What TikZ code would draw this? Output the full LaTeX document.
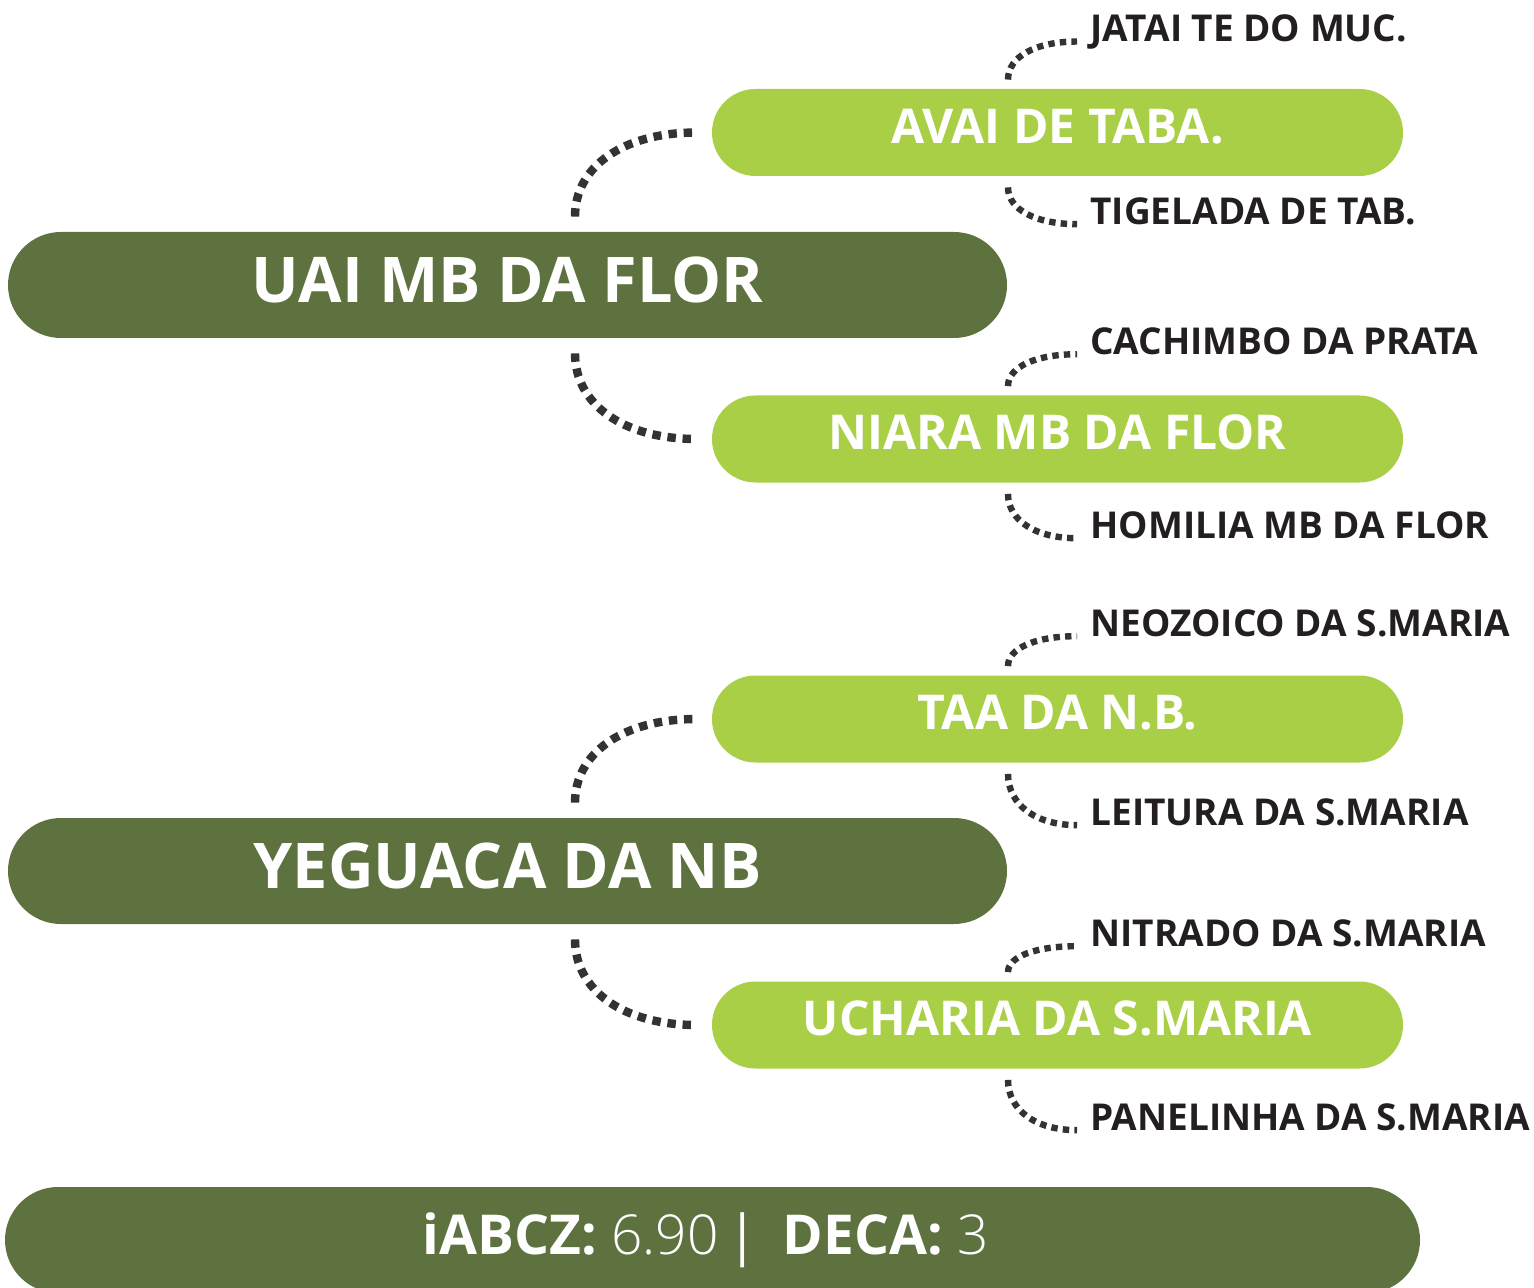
\documentclass[tikz,border=0pt]{standalone}
\usepackage{fontspec}
\setmainfont{Open Sans}
\IfFontExistsTF{Open Sans Light}{\newfontfamily\lightfont{Open Sans Light}}{\newcommand\lightfont{\mdseries}}
\usetikzlibrary{shapes.misc,calc}
\definecolor{darkg}{HTML}{5E7240}
\definecolor{lightg}{HTML}{A8CF45}
\definecolor{dotc}{HTML}{333333}
\definecolor{labc}{HTML}{231F20}
\tikzset{
  darkbar/.style={rounded rectangle, fill=darkg, minimum width=499.5pt, minimum height=53pt, inner sep=0pt,
    text=white, font=\fontsize{31.5}{38}\selectfont\bfseries, text height=22.5pt, text depth=5pt},
  lightbar/.style={rounded rectangle, fill=lightg, minimum width=345.5pt, minimum height=43.5pt, inner sep=0pt,
    text=white, font=\fontsize{24}{29}\selectfont\bfseries, text height=17.1pt, text depth=6.5pt},
  footbar/.style={rounded rectangle, fill=darkg, minimum width=707.5pt, minimum height=53pt, inner sep=0pt,
    text=white, font=\fontsize{27.5}{33}\selectfont, text height=19.6pt, text depth=5pt},
  lab/.style={anchor=west, inner sep=0pt, text=labc, font=\fontsize{18.5}{22}\selectfont\bfseries},
  elbow/.style={to path={.. controls ($(\tikztostart)!0.6!(\tikztostart|-\tikztotarget)$) and ($(\tikztotarget)!0.6!(\tikztostart|-\tikztotarget)$) .. (\tikztotarget)}},
  bigdots/.style={draw=dotc, line width=4.2pt, dash pattern=on 4.2pt off 3.4pt, elbow},
  smalldots/.style={draw=dotc, line width=3.2pt, dash pattern=on 3.2pt off 2.6pt, elbow},
}
\begin{document}
\begin{tikzpicture}[x=0.5pt,y=-0.5pt]
\useasboundingbox (0,0) rectangle (1534,1288);
\clip (0,0) rectangle (1534,1288);

% main bars
\node[darkbar] (uai) at (507.5,285) {UAI MB DA FLOR};
\node[darkbar] (yeg) at (507.5,871) {YEGUACA DA NB};

% parent bars
\node[lightbar] (avai) at (1057.5,132.5) {AVAI DE TABA.};
\node[lightbar] (niara) at (1057.5,439) {NIARA MB DA FLOR};
\node[lightbar] (taa) at (1057.5,719) {TAA DA N.B.};
\node[lightbar] (uch) at (1057.5,1025) {UCHARIA DA S.MARIA};

% grandparent labels
\node[lab] (jatai) at (1090,32) {JATAI TE DO MUC.};
\node[lab] (tige) at (1090,211) {TIGELADA DE TAB.};
\node[lab] (cach) at (1090,341) {CACHIMBO DA PRATA};
\node[lab] (homi) at (1090,525) {HOMILIA MB DA FLOR};
\node[lab] (neoz) at (1090,623) {NEOZOICO DA S.MARIA};
\node[lab] (leit) at (1090,812) {LEITURA DA S.MARIA};
\node[lab] (nitr) at (1090,933) {NITRADO DA S.MARIA};
\node[lab] (pane) at (1090,1117) {PANELINHA DA S.MARIA};

% footer
\node[footbar] (foot) at (712.5,1240) {\textbf{iABCZ:} {\lightfont 6.90}\,|\hspace{0.45em}\textbf{DECA:} {\lightfont 3}\hspace*{7pt}};

% big connector end points
\coordinate (s1) at ([xshift=33.75pt,yshift=7.5pt]uai.north);
\coordinate (e1) at ([xshift=-7.5pt]avai.west);
\coordinate (s2) at ([xshift=33.75pt,yshift=-7.5pt]uai.south);
\coordinate (e2) at ([xshift=-7.5pt]niara.west);
\coordinate (s3) at ([xshift=33.75pt,yshift=7.5pt]yeg.north);
\coordinate (e3) at ([xshift=-7.5pt]taa.west);
\coordinate (s4) at ([xshift=33.75pt,yshift=-7.5pt]yeg.south);
\coordinate (e4) at ([xshift=-7.5pt]uch.west);
\draw[bigdots] (s1) to (e1);
\draw[bigdots] (s2) to (e2);
\draw[bigdots] (s3) to (e3);
\draw[bigdots] (s4) to (e4);

% small connector end points
\coordinate (a1) at ([xshift=-24.75pt,yshift=4.5pt]avai.north);
\coordinate (b1) at ([xshift=-6.5pt]jatai.base west);
\coordinate (a2) at ([xshift=-24.75pt,yshift=-5.5pt]avai.south);
\coordinate (b2) at ([xshift=-6.5pt]tige.base west);
\coordinate (a3) at ([xshift=-24.75pt,yshift=4.5pt]niara.north);
\coordinate (b3) at ([xshift=-6.5pt]cach.base west);
\coordinate (a4) at ([xshift=-24.75pt,yshift=-5.5pt]niara.south);
\coordinate (b4) at ([xshift=-6.5pt]homi.base west);
\coordinate (a5) at ([xshift=-24.75pt,yshift=4.5pt]taa.north);
\coordinate (b5) at ([xshift=-6.5pt]neoz.base west);
\coordinate (a6) at ([xshift=-24.75pt,yshift=-5.5pt]taa.south);
\coordinate (b6) at ([xshift=-6.5pt]leit.base west);
\coordinate (a7) at ([xshift=-24.75pt,yshift=4.5pt]uch.north);
\coordinate (b7) at ([xshift=-6.5pt]nitr.base west);
\coordinate (a8) at ([xshift=-24.75pt,yshift=-5.5pt]uch.south);
\coordinate (b8) at ([xshift=-6.5pt]pane.base west);
\foreach \i in {1,...,8} {\draw[smalldots] (a\i) to (b\i);}
\end{tikzpicture}
\end{document}
